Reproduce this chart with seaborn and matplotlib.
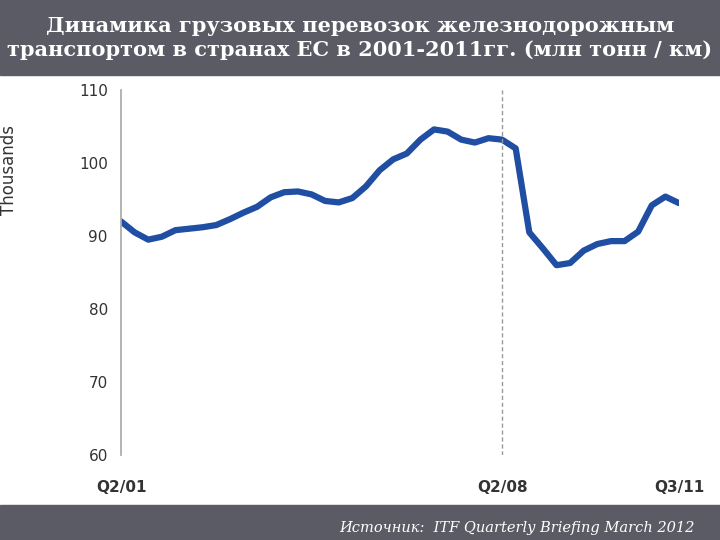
import matplotlib
matplotlib.use("Agg")
import matplotlib.pyplot as plt
import seaborn as sns
import pandas as pd

sns.set_theme(style="white")
plt.rcParams['font.family'] = ['DejaVu Sans']

values = [92.0, 90.5, 89.5, 89.9, 90.8, 91.0, 91.2, 91.5, 92.3, 93.2, 94.0, 95.3,
          96.0, 96.1, 95.7, 94.8, 94.6, 95.2, 96.8, 99.0, 100.5, 101.3, 103.2, 104.6,
          104.3, 103.2, 102.8, 103.4, 103.2, 102.0, 90.5, 88.3, 86.0, 86.3, 88.0, 88.9,
          89.3, 89.3, 90.6, 94.2, 95.4, 94.5]
tick_pos = [0, 28, 41]
tick_labels = ["Q2/01", "Q2/08", "Q3/11"]
yticks = [60, 70, 80, 90, 100, 110]
title = "Динамика грузовых перевозок железнодорожным\nтранспортом в странах ЕС в 2001-2011гг. (млн тонн / км)"
source = "Источник:  ITF Quarterly Briefing March 2012"

df = pd.DataFrame({"q": range(len(values)), "v": values})

fig = plt.figure(figsize=(7.2, 5.4), dpi=100)
fig.patches.append(plt.Rectangle((0, 1-75/540), 1, 75/540, transform=fig.transFigure, color="#5b5b66", zorder=0))
fig.patches.append(plt.Rectangle((0, 0), 1, 35/540, transform=fig.transFigure, color="#5b5b66", zorder=0))
fig.text(0.5, 1-38/540, title, ha="center", va="center", color="white", fontsize=15,
         family="DejaVu Serif", fontweight="bold", linespacing=1.2)
fig.text(0.965, 12/540, source, ha="right", va="center", color="white", fontsize=10.5,
         family="DejaVu Serif", style="italic")

ax = fig.add_axes([121/720, 1-455/540, (679-121)/720, (455-90)/540])
sns.lineplot(data=df, x="q", y="v", ax=ax, color="#1f4ea3", linewidth=4.5)
ax.axvline(28, color="#999999", linestyle=(0, (3, 2)), linewidth=1)
ax.set_xlim(0, 41)
ax.set_ylim(60, 110)
ax.set_yticks(yticks)
ax.set_xticks(tick_pos)
ax.set_xticklabels(tick_labels, fontsize=11, fontweight="bold", color="#333333")
ax.tick_params(axis="y", labelsize=11, labelcolor="#333333")
ax.set_xlabel("")
ax.set_ylabel("Thousands", fontsize=12, color="#333333")
ax.yaxis.set_label_coords(-0.185, 0.78)
for s in ["top", "right", "bottom"]:
    ax.spines[s].set_visible(False)
ax.spines["left"].set_color("#aaaaaa")
ax.tick_params(axis="x", pad=12)
fig.savefig("out.png", dpi=100)
